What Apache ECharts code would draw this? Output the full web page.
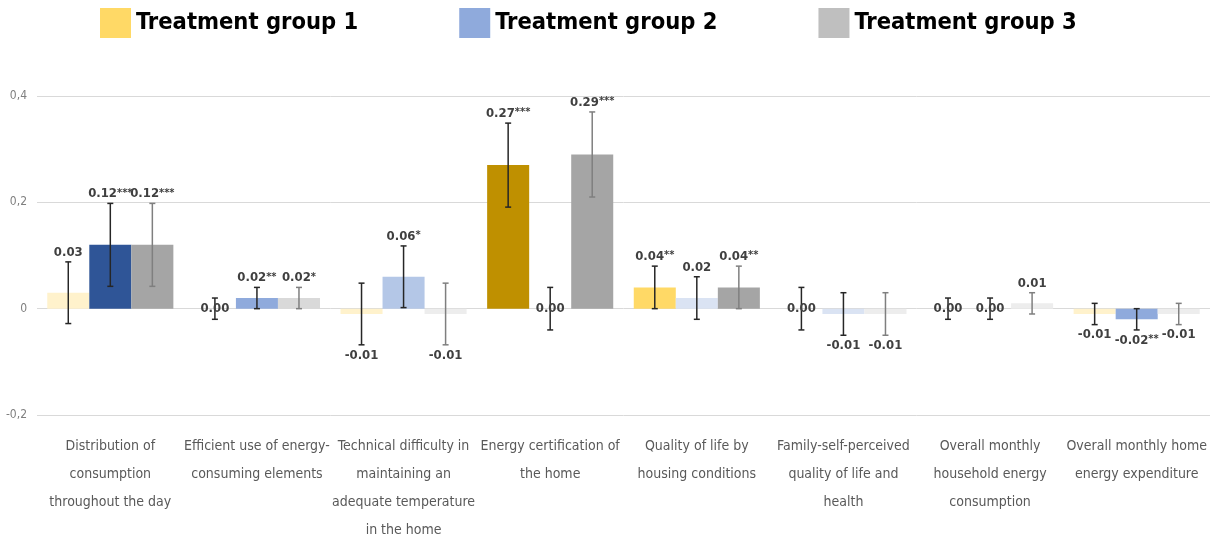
<!DOCTYPE html>
<html>
<head>
<meta charset="utf-8">
<script src="https://cdn.jsdelivr.net/npm/echarts@6/dist/echarts.min.js"></script>
<style>
  html, body { margin: 0; padding: 0; background: #fff; }
  #main { width: 1219px; height: 540px; }
</style>
</head>
<body>
<div id="main"></div>
<script>
// categories (line breaks as in the original axis)
var categories = [
    'Distribution of\nconsumption\nthroughout the day',
    'Efficient use of energy-\nconsuming elements',
    'Technical difficulty in\nmaintaining an\nadequate temperature\nin the home',
    'Energy certification of\nthe home',
    'Quality of life by\nhousing conditions',
    'Family-self-perceived\nquality of life and\nhealth',
    'Overall monthly\nhousehold energy\nconsumption',
    'Overall monthly home\nenergy expenditure'
];
var groupNames = ['Treatment group 1', 'Treatment group 2', 'Treatment group 3'];

// estimated effects
var group1 = [0.03, 0.00, -0.01, 0.27, 0.04, 0.00, 0.00, -0.01];
var group2 = [0.12, 0.02, 0.06, 0.00, 0.02, -0.01, 0.00, -0.02];
var group3 = [0.12, 0.02, -0.01, 0.29, 0.04, -0.01, 0.01, -0.01];

// half width of the confidence interval
var ci1 = [0.058, 0.02, 0.058, 0.079, 0.04, 0.04, 0.02, 0.02];
var ci2 = [0.078, 0.02, 0.058, 0.04, 0.04, 0.04, 0.02, 0.02];
var ci3 = [0.078, 0.02, 0.058, 0.08, 0.04, 0.04, 0.02, 0.02];

// significance stars
var sig1 = ['', '', '', '***', '**', '', '', ''];
var sig2 = ['***', '**', '*', '', '', '', '', '**'];
var sig3 = ['***', '*', '', '***', '**', '', '', ''];

var yTicks = [-0.2, 0, 0.2, 0.4];

/* styles */
var FONT = '"Liberation Sans Narrow", "DejaVu Sans Condensed", "Noto Sans", sans-serif';
var legendColors = ['#FFD966', '#8FAADC', '#BFBFBF'];
// shade by number of stars: 0,1,2,3
var shades = [
    ['#FFF2CC', '#FFE699', '#FFD966', '#BF9000'],
    ['#DAE3F3', '#B4C7E7', '#8FAADC', '#2F5597'],
    ['#EDEDED', '#D9D9D9', '#A5A5A5', '#A5A5A5']
];
var errColors = ['#262626', '#262626', '#7F7F7F'];
var GAP = 0.14;

var values = [group1, group2, group3];
var cis = [ci1, ci2, ci3];
var sigs = [sig1, sig2, sig3];

var chart = echarts.init(document.getElementById('main'));

var series = [];
values.forEach(function (vals, k) {
    series.push({
        name: groupNames[k],
        type: 'bar',
        barGap: 0,
        barCategoryGap: (GAP * 100) + '%',
        itemStyle: { color: legendColors[k] },
        data: vals.map(function (v, i) {
            return { value: v, itemStyle: { color: shades[k][sigs[k][i].length] } };
        }),
        z: 2
    });
});

// error bars + labels
values.forEach(function (vals, k) {
    series.push({
        type: 'custom',
        name: 'err' + k,
        z: 5,
        data: vals.map(function (v, i) { return [i, v, cis[k][i]]; }),
        encode: { x: 0, y: 1 },
        renderItem: function (params, api) {
            var i = api.value(0), v = api.value(1), ci = api.value(2);
            var band = api.size([1, 0])[0];
            var bw = band * (1 - GAP) / 3;
            var x = api.coord([i, v])[0] + (k - 1) * bw;
            var yHi = api.coord([i, v + ci])[1];
            var yLo = api.coord([i, v - ci])[1];
            var y0 = api.coord([i, v])[1];
            var st = { stroke: errColors[k], lineWidth: 1.5 };
            var cap = 3;
            var txt = v.toFixed(2);
            var stars = sigs[k][i];
            var ty, va;
            if (v > 0) { ty = yHi - 3; va = 'bottom'; }
            else if (v < 0) { ty = yLo + 4; va = 'top'; }
            else { ty = y0; va = 'middle'; }
            return {
                type: 'group',
                children: [
                    { type: 'line', shape: { x1: x, y1: yHi, x2: x, y2: yLo }, style: st },
                    { type: 'line', shape: { x1: x - cap, y1: yHi, x2: x + cap, y2: yHi }, style: st },
                    { type: 'line', shape: { x1: x - cap, y1: yLo, x2: x + cap, y2: yLo }, style: st },
                    {
                        type: 'text',
                        style: {
                            text: '{n|' + txt + '}' + (stars ? '{s|' + stars + '}' : ''),
                            x: x, y: ty,
                            align: 'center', verticalAlign: va,
                            rich: {
                                n: { fontSize: 13, fontFamily: FONT, fontWeight: 'bold', fill: '#404040' },
                                s: { fontSize: 11, fontFamily: FONT, fontWeight: 'bold', fill: '#404040', verticalAlign: 'top' }
                            }
                        }
                    }
                ]
            };
        }
    });
});

chart.setOption({
    animation: false,
    legend: {
        data: groupNames,
        left: 95,
        top: 3,
        icon: 'rect',
        itemWidth: 31,
        itemHeight: 30,
        itemGap: 101,
        textStyle: { fontSize: 23.5, fontWeight: 'bold', color: '#000', fontFamily: FONT }
    },
    grid: { left: 37, right: 9, top: 96, bottom: 125, containLabel: false, outerBoundsMode: 'none' },
    xAxis: {
        type: 'category',
        data: categories,
        axisLine: { show: false, onZero: false },
        axisTick: { show: false },
        axisLabel: {
            interval: 0,
            margin: 17,
            fontSize: 14,
            lineHeight: 28,
            color: '#595959',
            fontFamily: FONT,
            verticalAlign: 'top'
        }
    },
    yAxis: {
        type: 'value',
        min: yTicks[0],
        max: yTicks[yTicks.length - 1],
        interval: 0.2,
        axisLine: { show: false },
        axisTick: { show: false },
        splitLine: { lineStyle: { color: '#D9D9D9', width: 1 } },
        axisLabel: {
            margin: 10,
            fontSize: 12,
            color: '#7F7F7F',
            fontFamily: FONT,
            formatter: function (v) { return String(Math.round(v * 10) / 10).replace('.', ','); }
        }
    },
    series: series
});
</script>
</body>
</html>
